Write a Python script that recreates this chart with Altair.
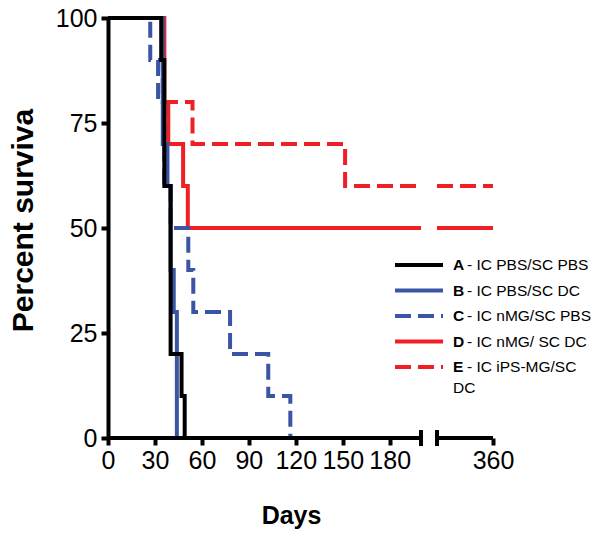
import altair as alt
import pandas as pd

# ---------------- data ----------------
groups = ["A", "B", "C", "D", "E"]
legend_desc = ["- IC PBS/SC PBS", "- IC PBS/SC DC", "- IC nMG/SC PBS",
               "- IC nMG/ SC DC", "- IC iPS-MG/SC"]
legend_wrap = ["", "", "", "", "DC"]
colors = ["#000000", "#3B55A5", "#3B55A5", "#EE2026", "#EE2026"]
dashed = [False, False, True, False, True]

a_days = [0, 34, 36, 40, 47, 49]
a_surv = [100, 90, 60, 20, 10, 0]
b_days = [0, 35, 38, 40, 42, 44]
b_surv = [100, 70, 60, 40, 30, 0]
c_days = [0, 27, 32, 36, 40, 51.3, 54.5, 78, 102.4, 116.5]
c_surv = [100, 90, 80, 60, 50, 40, 30, 20, 10, 0]
d_days = [0, 36, 38.5, 48, 51, 200]
d_surv = [100, 80, 70, 60, 50, 50]
e_days = [0, 35, 54, 151.5, 200]
e_surv = [100, 80, 70, 60, 60]

late_days = [324, 360]
d_late = [50, 50]
e_late = [60, 60]

x_ticks = [0, 30, 60, 90, 120, 150, 180, 360]
y_ticks = [0, 25, 50, 75, 100]
axis_seg_start = [0, 324]   # the two pieces of the broken x axis
axis_seg_end = [200, 360]
break_days = [200, 324]

series = [
    ("A", 1, a_days, a_surv), ("B", 1, b_days, b_surv), ("C", 1, c_days, c_surv),
    ("D", 1, d_days, d_surv), ("E", 1, e_days, e_surv),
    ("D", 2, late_days, d_late), ("E", 2, late_days, e_late),
]

NARROW = "Liberation Sans Narrow, Arial Narrow, Liberation Sans, Arial"
SANS = "Liberation Sans, Arial, Helvetica"
DASH = [16, 7]
LW = 4
PW = 385
PH = 420

rows = []
for g, seg, ds, ss in series:
    for d, s in zip(ds, ss):
        rows.append({"group": g, "seg": seg, "day": d, "surv": s})
surv_df = pd.DataFrame(rows)

# broken (piecewise) x scale: 0-200 then 324-360
x_scale = alt.Scale(domain=[0, 200, 324, 360], range=[0, 313, 329, PW])
y_scale = alt.Scale(domain=[0, 100])

x_axis = alt.Axis(values=x_ticks, domain=False, title="Days", labelFlush=False,
                  titleX=183, titleY=85, titleAnchor="start",
                  titleAlign="center", titleBaseline="alphabetic",
                  titleFont=NARROW, titleFontSize=25)
y_axis = alt.Axis(values=y_ticks, title="Percent surviva", labelFlush=False,
                  titleX=-76, titleY=202, titleAngle=270,
                  titleAlign="center", titleBaseline="alphabetic")

x_main = alt.X("day:Q", scale=x_scale, axis=x_axis)
y_main = alt.Y("surv:Q", scale=y_scale, axis=y_axis)

layers = []
for g in ["E", "D", "C", "B", "A"]:
    i = groups.index(g)
    props = dict(interpolate="step-after", color=colors[i], strokeWidth=LW,
                 strokeCap="butt", strokeJoin="miter")
    if dashed[i]:
        props["strokeDash"] = DASH
    layers.append(
        alt.Chart(surv_df).transform_filter(alt.datum.group == g)
        .mark_line(**props).encode(x=x_main, y=y_main, detail="seg:N",
                                   order="day:Q")
    )

axis_line = alt.Chart(pd.DataFrame({"day": axis_seg_start, "end": axis_seg_end})
                      ).mark_rule(color="black", strokeWidth=LW, strokeCap="butt").encode(
    x=x_main, x2="end:Q", y=alt.datum(0, scale=y_scale, axis=y_axis))

breaks = alt.Chart(pd.DataFrame({"day": break_days})).mark_rule(
    color="black", strokeWidth=LW).encode(
    x=x_main, y=alt.value(PH - 8), y2=alt.value(PH + 8))

# legend drawn by hand inside the plot
leg_df = pd.DataFrame({
    "idx": list(range(len(groups))),
    "letter": groups,
    "desc": legend_desc,
    "wrap": legend_wrap,
    "color": colors,
    "dashed": dashed,
})
leg_base = alt.Chart(leg_df).transform_calculate(ly="247 + 25.5 * datum.idx")
leg_y = alt.Y("ly:Q", scale=None)
leg_solid = leg_base.transform_filter("!datum.dashed").mark_rule(
    strokeWidth=LW, strokeCap="butt").encode(
    x=alt.value(287), x2=alt.value(335), y=leg_y,
    color=alt.Color("color:N", scale=None))
leg_dash = leg_base.transform_filter("datum.dashed").mark_rule(
    strokeWidth=LW, strokeCap="butt", strokeDash=DASH).encode(
    x=alt.value(287), x2=alt.value(335), y=leg_y,
    color=alt.Color("color:N", scale=None))
leg_letter = leg_base.mark_text(
    align="left", baseline="middle", font=SANS, fontSize=15.5,
    fontWeight="bold", color="black").encode(
    x=alt.value(345), y=leg_y, text="letter:N")
leg_text = leg_base.mark_text(
    align="left", baseline="middle", font=SANS, fontSize=15.5,
    color="black").encode(x=alt.value(359), y=leg_y, text="desc:N")
leg_wrap = leg_base.mark_text(
    align="left", baseline="middle", font=SANS, fontSize=15.5, dy=21,
    color="black").encode(x=alt.value(345), y=leg_y, text="wrap:N")

chart = alt.layer(
    *layers, axis_line, breaks,
    leg_solid, leg_dash, leg_letter, leg_text, leg_wrap,
).properties(
    width=PW, height=PH,
    autosize=alt.AutoSizeParams(type="none"),
    padding={"left": 100, "top": 10, "right": 100, "bottom": 92},
).configure_view(strokeWidth=0).configure_axis(
    grid=False, domainColor="black", domainWidth=LW, tickColor="black",
    tickWidth=LW, tickSize=7, labelFont=NARROW, labelFontSize=25,
    labelColor="black", titleFont=SANS, titleFontSize=30,
    titleFontWeight="bold", titleColor="black", domainCap="butt",
).configure_axisY(labelPadding=4).configure_axisX(labelPadding=3)

chart.save("out.html", embed_options={"renderer": "svg", "actions": False})
